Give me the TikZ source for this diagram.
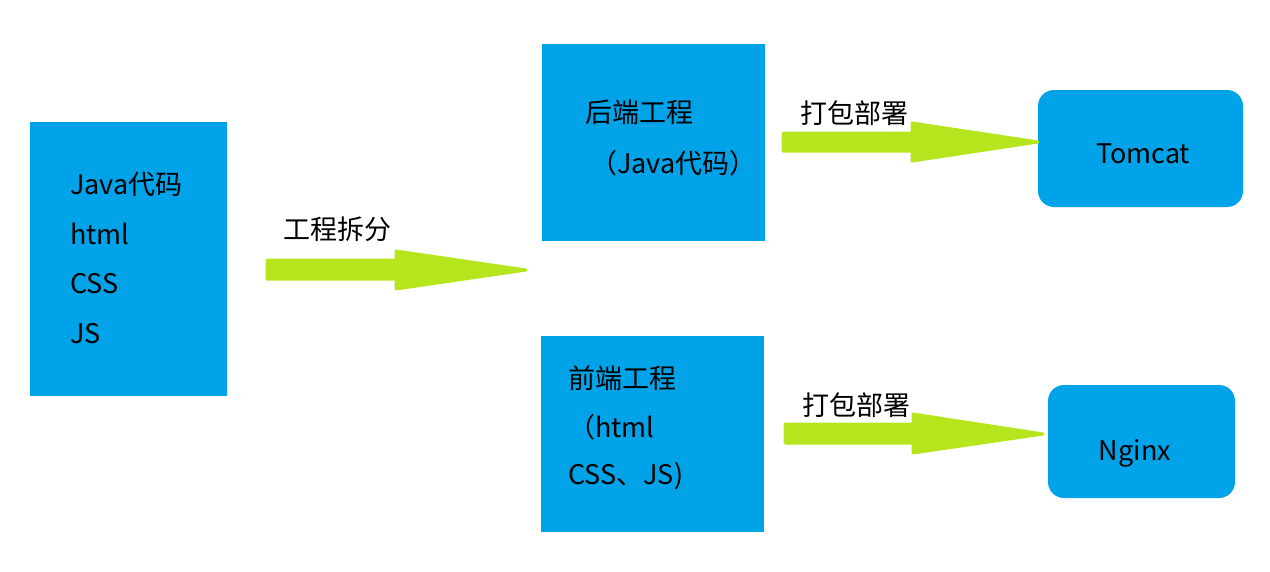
\documentclass[tikz,border=0pt]{standalone}
\usepackage{fontspec}
\setmainfont{Noto Sans CJK SC}
\begin{document}
\begin{tikzpicture}[x=1pt,y=-1pt,
  box/.style={fill=bluebox,draw=none},
  txt/.style={font=\fontsize{27}{32}\selectfont,anchor=west,inner sep=0},
  fat/.style={fill=greenarrow,draw=greenarrow,line join=round,line width=3}]
\definecolor{bluebox}{HTML}{00A2E8}
\definecolor{greenarrow}{HTML}{B5E61D}
\useasboundingbox (0,0) rectangle (1270,571);
\fill[bluebox] (30,122) rectangle (227,396);
\fill[bluebox] (542,44) rectangle (765,241);
\fill[bluebox] (541,336) rectangle (764,532);
\fill[bluebox,rounded corners=16] (1038,90) rectangle (1243,207);
\fill[bluebox,rounded corners=16] (1048,385) rectangle (1235,498);
\node[txt] (a1) at (70,184) {Java代码};
\node[txt] (a2) at (70,234) {html};
\node[txt] (a3) at (70,284) {CSS};
\node[txt] (a4) at (70,334) {JS};
\node[txt] (b1) at (585,112) {后端工程};
\node[txt] (b2) at (590,163) {（Java代码）};
\node[txt] (c1) at (568,378) {前端工程};
\node[txt] (c2) at (568,427) {（html};
\node[txt] (c3) at (568,476) {CSS、JS)};
\node[txt,anchor=center] (t) at (1143,154) {Tomcat};
\node[txt,anchor=center] (n) at (1135,453) {Nginx};
\node[txt] (l0) at (283,229) {工程拆分};
\node[txt] (l1) at (800,113) {打包部署};
\node[txt] (l2) at (802,405) {打包部署};
\filldraw[fat] (267,260) -- (396,260) -- (396,251) -- (526,270) -- (396,289) -- (396,279) -- (267,279) -- cycle;
\filldraw[fat] (783,133) -- (912,133) -- (912,123) -- (1038,142) -- (912,161) -- (912,151) -- (783,151) -- cycle;
\filldraw[fat] (785,424) -- (913,424) -- (913,414) -- (1043,434) -- (913,453) -- (913,443) -- (785,443) -- cycle;
\end{tikzpicture}
\end{document}
